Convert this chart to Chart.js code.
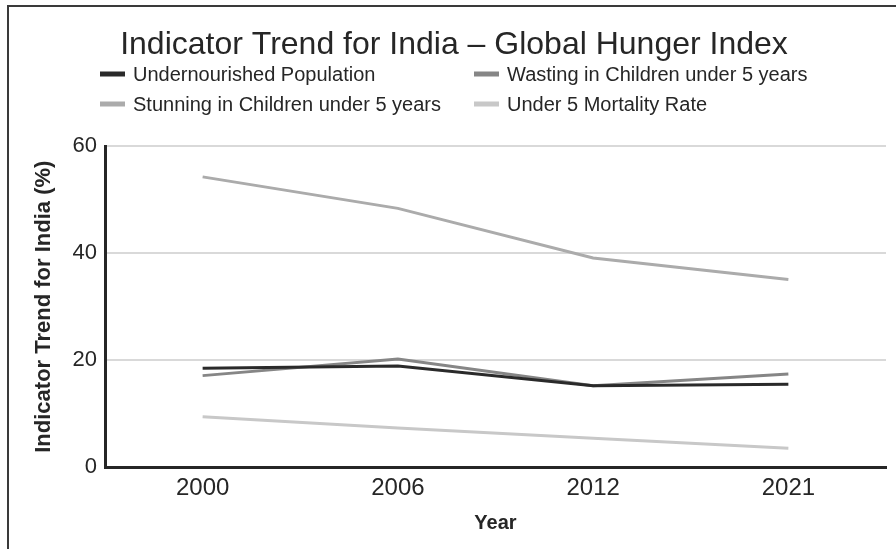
<!DOCTYPE html>
<html>
<head>
<meta charset="utf-8">
<script src="https://cdn.jsdelivr.net/npm/chart.js@4.4.1/dist/chart.umd.min.js"></script>
<style>
  html, body { margin: 0; padding: 0; background: #ffffff; }
  #wrap { width: 896px; height: 549px; position: relative; }
</style>
</head>
<body>
<div id="wrap"><canvas id="chart" width="896" height="549"></canvas></div>
<script>
// Years on the horizontal axis
const years = ['2000', '2006', '2012', '2021'];

// Indicator values (%)
const undernourished = [18.5, 18.9, 15.2, 15.5];
const wasting = [17.1, 20.2, 15.2, 17.4];
const stunting = [54.3, 48.4, 39.1, 35.1];
const mortality = [9.4, 7.3, 5.4, 3.5];

const seriesNames = [
  'Undernourished Population',
  'Wasting in Children under 5 years',
  'Stunning in Children under 5 years',
  'Under 5 Mortality Rate'
];
const seriesColors = ['#2a2a2a', '#868686', '#ababab', '#c8c8c8'];

const FONT = '"Liberation Sans", Arial, Helvetica, sans-serif';
Chart.defaults.font.family = FONT;
Chart.defaults.color = '#262626';

// White page with a frame on the left and top edges
const framePlugin = {
  id: 'frame',
  beforeDraw(chart) {
    const ctx = chart.ctx;
    ctx.save();
    ctx.fillStyle = '#ffffff';
    ctx.fillRect(0, 0, chart.width, chart.height);
    ctx.strokeStyle = '#3a3a3a';
    ctx.lineWidth = 2;
    ctx.beginPath();
    ctx.moveTo(8, chart.height);
    ctx.lineTo(8, 6);
    ctx.lineTo(chart.width, 6);
    ctx.stroke();
    ctx.restore();
  }
};

// Two-column legend under the title
const gridLegend = {
  id: 'gridLegend',
  afterDraw(chart) {
    const ctx = chart.ctx;
    const cols = [100, 474];
    const rows = [74, 104];
    ctx.save();
    ctx.font = '20px ' + FONT;
    ctx.textBaseline = 'middle';
    ctx.textAlign = 'left';
    chart.data.datasets.forEach((ds, i) => {
      const x = cols[i % 2];
      const y = rows[Math.floor(i / 2)];
      ctx.fillStyle = ds.borderColor;
      ctx.fillRect(x, y - 2.5, 25, 5);
      ctx.fillStyle = '#262626';
      ctx.fillText(ds.label, x + 33, y + 1);
    });
    ctx.restore();
  }
};

const datasets = [undernourished, wasting, stunting, mortality].map((vals, i) => ({
  label: seriesNames[i],
  data: vals,
  borderColor: seriesColors[i],
  backgroundColor: seriesColors[i],
  borderWidth: 3,
  pointRadius: 0,
  pointHoverRadius: 0,
  tension: 0,
  fill: false
}));

new Chart(document.getElementById('chart'), {
  type: 'line',
  data: { labels: years, datasets: datasets },
  options: {
    responsive: false,
    animation: false,
    events: [],
    layout: { padding: { left: 22, right: 10, top: 6, bottom: 0 } },
    plugins: {
      legend: { display: false },
      tooltip: { enabled: false },
      title: {
        display: true,
        text: 'Indicator Trend for India – Global Hunger Index',
        color: '#262626',
        font: { size: 32, weight: 'normal' },
        padding: { top: 20, bottom: 82 }
      }
    },
    scales: {
      x: {
        type: 'category',
        offset: true,
        grid: { display: false, drawTicks: false },
        border: { display: true, color: '#262626', width: 3 },
        ticks: { color: '#262626', font: { size: 24 }, padding: 7 },
        title: {
          display: true,
          text: 'Year',
          color: '#262626',
          font: { size: 20, weight: 'bold' },
          padding: { top: 6, bottom: 14 }
        },
        afterFit(scale) { scale.height = 82; }
      },
      y: {
        min: 0,
        max: 60,
        ticks: { stepSize: 20, color: '#262626', font: { size: 22 }, padding: 8 },
        grid: {
          drawTicks: false,
          lineWidth: 2,
          color: (c) => (c.tick && c.tick.value === 0 ? 'rgba(0,0,0,0)' : '#d9d9d9')
        },
        border: { display: true, color: '#262626', width: 3 },
        title: {
          display: true,
          text: 'Indicator Trend for India (%)',
          color: '#262626',
          font: { size: 22, weight: 'bold' },
          padding: { top: 9, bottom: 4 }
        },
        afterFit(scale) { scale.width = 83; }
      }
    }
  },
  plugins: [framePlugin, gridLegend]
});
</script>
</body>
</html>
